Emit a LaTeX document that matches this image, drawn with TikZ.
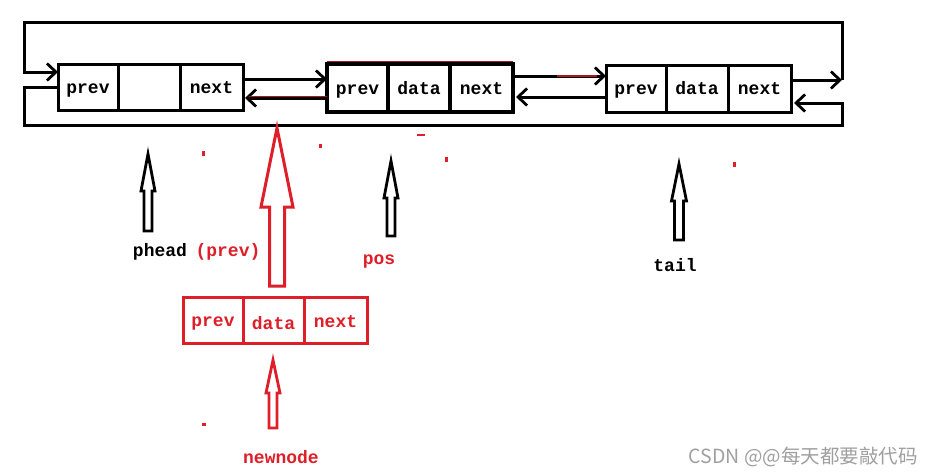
\documentclass[tikz,border=0pt]{standalone}
\usepackage{fontspec}
\setmonofont{Liberation Mono}
\newfontfamily\cjk{Noto Sans CJK SC}
\usetikzlibrary{arrows.meta}
\definecolor{myred}{RGB}{222,30,40}
\definecolor{darkred}{RGB}{170,25,25}
\definecolor{wmgray}{RGB}{160,160,160}
\begin{document}
\begin{tikzpicture}[x=1pt,y=-1pt,
  cell/.style={draw, line width=3pt, inner sep=0pt, outer sep=0pt, minimum height=46pt,
    text height=12pt, text depth=0pt,
    font=\ttfamily\bfseries\fontsize{18}{18}\selectfont},
  conn/.style={line width=3pt, -{Straight Barb[length=9pt,width=17pt,line width=2.8pt]}},
  blk/.style={draw, line width=2.8pt, fill=white, line join=miter},
  lbl/.style={inner sep=0pt, font=\ttfamily\bfseries\fontsize{18}{18}\selectfont},
  dot/.style={fill=myred}
]
\fill[white] (0,0) rectangle (934,474);
\useasboundingbox (0,0) rectangle (934,474);

% loop corners
\coordinate (TL) at (24,22);
\coordinate (TR) at (842,22);
\coordinate (BL) at (24,125);
\coordinate (BR) at (842,125);

% phead node
\node[cell, minimum width=60pt] (hp) at (88,87) {prev};
\node[cell, minimum width=62pt] (hd) at (149,87) {};
\node[cell, minimum width=63pt] (hn) at (211.5,87) {next};

% pos node
\node[cell, line width=3.5pt, minimum height=48pt, minimum width=61pt] (pp) at (357.5,88) {prev};
\node[cell, line width=3.5pt, minimum height=48pt, minimum width=62pt] (pd) at (419,88) {data};
\node[cell, line width=3.5pt, minimum height=48pt, minimum width=63pt] (pn) at (481.5,88) {next};
\draw[darkred, line width=1pt] ([yshift=2.5pt]pp.north west) -- ([yshift=2.5pt]pn.north east);

% tail node
\node[cell, minimum height=47pt, minimum width=60pt] (tp) at (636,88.5) {prev};
\node[cell, minimum height=47pt, minimum width=62pt] (td) at (697,88.5) {data};
\node[cell, minimum height=47pt, minimum width=63pt] (tn) at (759.5,88.5) {next};

% new node
\node[cell, draw=myred, text=myred, minimum width=60pt] (np) at (213,320) {prev};
\node[cell, draw=myred, text=myred, minimum width=61pt] (nd) at (273.5,320) {\raisebox{-3pt}{data}};
\node[cell, draw=myred, text=myred, minimum width=63pt] (nn) at (335.5,320) {\raisebox{-1.5pt}{next}};

% links between nodes
\draw[conn] ([yshift=8pt]hn.east) coordinate (a1) -- (a1 -| pp.west);
\draw[conn, shorten >=2pt] ([yshift=-10pt]pp.west) coordinate (a2) -- (a2 -| hn.east);
\draw[darkred, line width=1.2pt] ([yshift=1.2pt]a2) -- ([yshift=1.2pt,xshift=6pt]a2 -| hn.east);
\draw[conn] ([yshift=12pt]pn.east) coordinate (a3) -- (a3 -| tp.west);
\draw[darkred, line width=1.5pt] ([xshift=44pt]a3) -- ([xshift=84pt]a3);
\draw[conn, shorten >=3pt] ([yshift=-8.5pt]tp.west) coordinate (a4) -- (a4 -| pn.east);

% circular links
\draw[conn] ([yshift=8.5pt]tn.east) coordinate (a5) -- (a5 -| TR);
\coordinate (a6) at ([yshift=15pt]hp.west);
\draw[conn, line join=miter] (a5 -| TR) -- (TR) -- (TL) -- (TL |- a6) -- (a6);
\coordinate (b1) at (hp.west);
\coordinate (b2) at ([yshift=-14.5pt]tn.east);
\draw[conn, line join=miter, shorten >=3pt] (b1) -- (b1 -| BL) -- (BL) -- (BR) -- (BR |- b2) -- (b2);

% block arrows
\draw[blk] (148,154) -- (155,191) -- (152,191) -- (152,231) -- (144,231) -- (144,191) -- (141,191) -- cycle;
\draw[blk, draw=myred, line width=3pt] (277,128) -- (293,207) -- (284.5,207) -- (284.5,286) -- (269.5,286) -- (269.5,207) -- (261,207) -- cycle;
\draw[blk] (391,161) -- (398,198) -- (395,198) -- (395,236) -- (387,236) -- (387,198) -- (384,198) -- cycle;
\draw[blk] (679,164) -- (686.5,201) -- (683.5,201) -- (683.5,240) -- (674.5,240) -- (674.5,201) -- (671.5,201) -- cycle;
\draw[blk, draw=myred] (273,360) -- (280,393) -- (277,393) -- (277,428) -- (269,428) -- (269,393) -- (266,393) -- cycle;

% labels
\node[lbl] (lphead) at (160,252) {phead};
\node[lbl, text=myred] (lprev) at (228,252) {(prev)};
\node[lbl, text=myred] (lpos) at (379,262) {pos};
\node[lbl] (ltail) at (675,265) {tail};
\node[lbl, text=myred] (lnew) at (281,457) {newnode};

% stray marks
\fill[dot] (202,151) rectangle (205,156);
\fill[dot] (319,144) rectangle (322,148);
\fill[dot] (445,157) rectangle (448,162);
\fill[dot] (733,162) rectangle (736,167);
\fill[dot] (417,134) rectangle (425,135.5);
\fill[dot] (202,423) rectangle (206,426);

% watermark
\node[anchor=base east, inner sep=0pt, text=wmgray, font=\cjk\fontsize{19.5}{19.5}\selectfont] (wm) at (918,463) {CSDN @@每天都要敲代码};
\end{tikzpicture}
\end{document}
